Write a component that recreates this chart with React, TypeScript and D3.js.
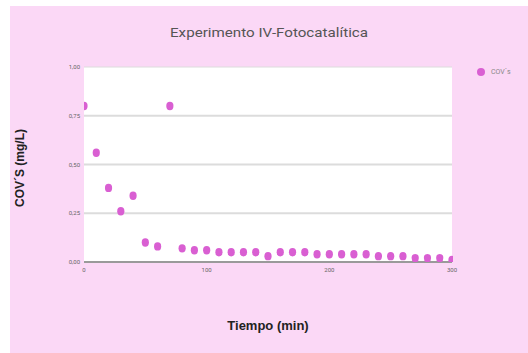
import React from "react";
import * as d3 from "d3";

const times = [0,10,20,30,40,50,60,70,80,90,100,110,120,130,140,150,160,170,180,190,200,210,220,230,240,250,260,270,280,290,300];
const covs = [0.80,0.56,0.38,0.26,0.34,0.10,0.08,0.80,0.07,0.06,0.06,0.05,0.05,0.05,0.05,0.03,0.05,0.05,0.05,0.04,0.04,0.04,0.04,0.04,0.03,0.03,0.03,0.02,0.02,0.02,0.01];
const yTicks = [0, 0.25, 0.5, 0.75, 1.0];
const xTicks = [0, 100, 200, 300];

const W = 528, H = 353;
const L = 84, R = 452, T = 67, B = 262;

export default function App() {
  const x = d3.scaleLinear().domain([0, 300]).range([L, R]);
  const y = d3.scaleLinear().domain([0, 1]).range([B, T]);
  const fmt = (v: number) => d3.format(".2f")(v).replace(".", ",");
  return (
    <svg width={W} height={H} style={{ position: "absolute", left: 0, top: 0 }}>
      <rect x={0} y={0} width={W} height={H} fill="#ffffff" />
      <rect x={10} y={6} width={W - 10} height={H - 6} fill="#fbd8f6" />
      <defs>
        <clipPath id="plotclip">
          <rect x={L} y={T - 10} width={R - L + 1} height={B - T + 10} />
        </clipPath>
      </defs>
      <rect x={L} y={T} width={R - L} height={B - T} fill="#ffffff" />
      {yTicks.map((t) => (
        <g key={t}>
          <line x1={L} x2={R} y1={y(t)} y2={y(t)} stroke={t === 0 ? "#9a9a9a" : "#dcdcdc"} strokeWidth={t === 0 ? 2 : t === 1 ? 1 : 2} />
          <text x={80} y={y(t)} dy="0.35em" textAnchor="end" fontSize={6} fill="#666" fontFamily="Roboto, sans-serif">{fmt(t)}</text>
        </g>
      ))}
      {xTicks.map((t) => (
        <text key={t} x={x(t)} y={272} textAnchor="middle" fontSize={6} fill="#666" fontFamily="Roboto, sans-serif">{t}</text>
      ))}
      <g clipPath="url(#plotclip)">
        {times.map((t, i) => (
          <ellipse key={t} cx={x(t)} cy={y(covs[i])} rx={3.6} ry={4.2} fill="#d95fd2" />
        ))}
      </g>
      <text x={269} y={37} textAnchor="middle" fontSize={13} fill="#555" fontFamily="Roboto, sans-serif" textLength={198} lengthAdjust="spacingAndGlyphs">Experimento IV-Fotocatalítica</text>
      <text x={268} y={330} textAnchor="middle" fontSize={13} fontWeight="bold" fill="#222" fontFamily="'Liberation Sans', Arial, sans-serif">Tiempo (min)</text>
      <text transform={`translate(24,168) rotate(-90)`} textAnchor="middle" fontSize={12} fontWeight="bold" fill="#222" fontFamily="'Liberation Sans', Arial, sans-serif">COV´S (mg/L)</text>
      <circle cx={481} cy={72} r={4} fill="#d95fd2" />
      <text x={491} y={72} dy="0.35em" fontSize={7} fill="#888" fontFamily="Roboto, sans-serif">COV´s</text>
    </svg>
  );
}
